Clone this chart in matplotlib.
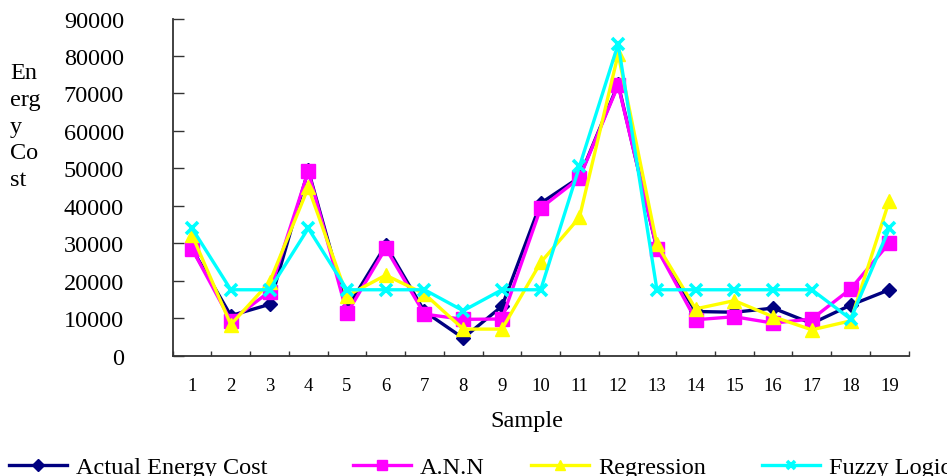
import numpy as np
import matplotlib
matplotlib.use("Agg")
import matplotlib.pyplot as plt

plt.rcParams['font.family'] = ['Liberation Serif', 'DejaVu Serif']

samples = list(range(1, 20))
actual = [28500, 10700, 13700, 49500, 12600, 29500, 11800, 4700, 13200, 40700,
          47600, 72500, 28500, 11800, 11600, 12700, 8600, 13500, 17600]
ann = [28500, 9300, 17100, 49200, 11300, 28700, 11100, 9700, 9800, 39400,
       47400, 72200, 28600, 9600, 10400, 8700, 9800, 17800, 30100]
regression = [32200, 8300, 19600, 44900, 16000, 21500, 16500, 7100, 7100, 24900,
              36900, 80500, 29700, 12500, 14700, 10400, 6900, 9300, 41400]
fuzzy = [34000, 17600, 17600, 34000, 17600, 17600, 17600, 12000, 17600, 17600,
         50500, 83200, 17600, 17600, 17600, 17600, 17600, 9800, 34000]
yticks = list(range(0, 90001, 10000))

W, H = 947, 477
fig = plt.figure(figsize=(W / 100, H / 100), dpi=100)
ax = fig.add_axes([172.7 / W, 1 - 356.7 / H, 736 / W, 337.2 / H])

ax.plot(samples, actual, color='#000080', lw=2.4, marker='D', ms=7.5,
        label='Actual Energy Cost', zorder=3)
ax.plot(samples, ann, color='#FF00FF', lw=2.4, marker='s', ms=9.5,
        label='A.N.N', zorder=4)
ax.plot(samples, regression, color='#FFFF00', lw=2.4, marker='^', ms=9.5,
        label='Regression', zorder=5)
ax.plot(samples, fuzzy, color='#00FFFF', lw=2.4, marker='x', ms=8, mew=2.6,
        label='Fuzzy Logic', zorder=6)

ax.set_xlim(0.5, 19.5)
ax.set_ylim(0, 90000)
ax.set_yticks(yticks)
ax.set_yticklabels([str(v) for v in yticks], fontsize=17.5)
ax.set_xticks(np.arange(0.5, 20, 1))
ax.set_xticklabels([])
ax.set_xticks(samples, minor=True)
ax.set_xticklabels([str(s) for s in samples], minor=True, fontsize=13.5)
ax.tick_params(axis='y', direction='in', length=8, width=1, pad=35, color='#333333')
ax.tick_params(axis='x', which='major', direction='in', length=3.6, width=1, color='#333333')
ax.tick_params(axis='x', which='minor', length=0, pad=15.5)

for s in ['top', 'right']:
    ax.spines[s].set_visible(False)
for s in ['left', 'bottom']:
    ax.spines[s].set_color('#333333')
    ax.spines[s].set_linewidth(1.3)

fig.text(10 / W, 1 - 63 / H, 'En\nerg\ny\nCo\nst', fontsize=17.5, ha='left',
         va='top', linespacing=1.36)
fig.text(526.5 / W, 1 - 422 / H, 'Sample', fontsize=17.5, ha='center', va='center')

handles = ax.get_lines()
starts = [9, 353, 531, 762]
for h, x0 in zip(handles, starts):
    fig.legend(handles=[h], loc='center left', bbox_to_anchor=(x0 / W, 1 - 468 / H),
               frameon=False, fontsize=17.5, handlelength=2.4, handletextpad=0.35,
               borderaxespad=0, borderpad=0, markerscale=0.75)

fig.savefig('out.png', dpi=100)
